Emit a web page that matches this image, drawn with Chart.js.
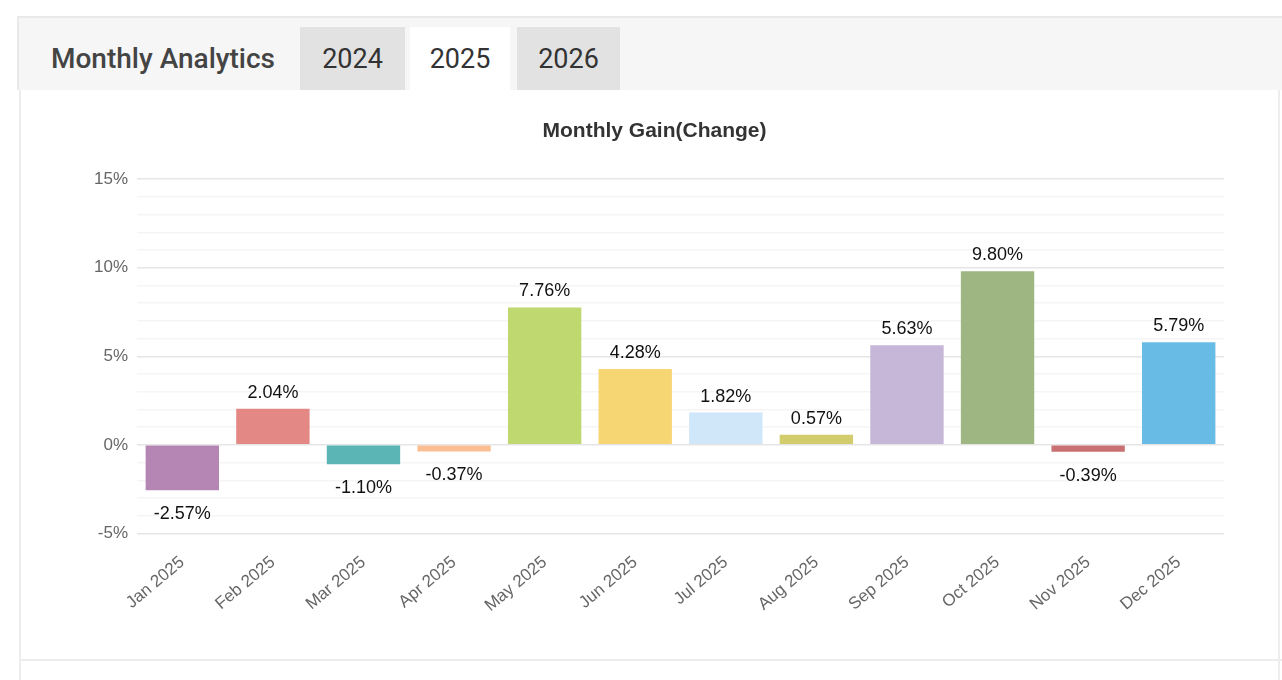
<!DOCTYPE html>
<html>
<head>
<meta charset="utf-8">
<script src="https://cdn.jsdelivr.net/npm/chart.js@4.4.1/dist/chart.umd.min.js"></script>
<style>
  html, body { margin: 0; padding: 0; background: #fff; }
  body { width: 1282px; height: 680px; position: relative; overflow: hidden; font-family: Roboto, "Noto Sans", sans-serif; }
  .header {
    position: absolute; left: 17px; top: 16px; width: 1265px; height: 74px;
    background: #f6f6f6; border-top: 2px solid #e9e9e9; border-left: 2px solid #e9e9e9;
    box-sizing: border-box;
  }
  .header h2 {
    position: absolute; left: 32px; top: 24px; margin: 0;
    font-size: 28px; font-weight: 500; color: #444; line-height: 34px;
  }
  .tab {
    position: absolute; top: 9px; height: 63px; background: #e2e2e2;
    font-size: 27px; color: #333; text-align: center; line-height: 64px;
  }
  .tab.active { background: #fff; }
  .body-box {
    position: absolute; left: 19px; top: 90px; width: 1261px; height: 600px;
    border-left: 2px solid #ededed; border-right: 2px solid #ededed; box-sizing: border-box;
  }
  .bottom-line { position: absolute; left: 19px; top: 659px; width: 1263px; height: 2px; background: #ededed; }
  #wrap { position: absolute; left: 85px; top: 100px; width: 1139px; height: 527px; }
</style>
</head>
<body>
<div class="header">
  <h2>Monthly Analytics</h2>
  <div class="tab" style="left:281px;width:105px;">2024</div>
  <div class="tab active" style="left:391px;width:100px;">2025</div>
  <div class="tab" style="left:498px;width:103px;">2026</div>
</div>
<div class="body-box"></div>
<div class="bottom-line"></div>
<div id="wrap"><canvas id="gainChart"></canvas></div>
<script>
const months = ['Jan 2025', 'Feb 2025', 'Mar 2025', 'Apr 2025', 'May 2025', 'Jun 2025',
                'Jul 2025', 'Aug 2025', 'Sep 2025', 'Oct 2025', 'Nov 2025', 'Dec 2025'];
const gains = [-2.57, 2.04, -1.10, -0.37, 7.76, 4.28, 1.82, 0.57, 5.63, 9.80, -0.39, 5.79];
const barColors = ['#b586b4', '#e48886', '#5bb5b5', '#fbbd92', '#bfd86f', '#f6d673',
                   '#d0e6f9', '#d2cc6c', '#c6b6d8', '#9db682', '#c97172', '#68bbe5'];
const yTicks = [-5, 0, 5, 10, 15];

const FONT = '"Liberation Sans", Arial, sans-serif';

// draws the value label above positive bars, below negative ones
const valueLabels = {
  id: 'valueLabels',
  afterDatasetsDraw(chart) {
    const ctx = chart.ctx;
    const meta = chart.getDatasetMeta(0);
    ctx.save();
    ctx.font = '18px ' + FONT;
    ctx.fillStyle = '#111';
    ctx.textAlign = 'center';
    ctx.textBaseline = 'middle';
    meta.data.forEach((bar, i) => {
      const v = gains[i];
      const y = v >= 0 ? bar.y - 16 : bar.y + 24;
      ctx.fillText(v.toFixed(2) + '%', bar.x, y);
    });
    ctx.restore();
  }
};

const ctx = document.getElementById('gainChart').getContext('2d');
window.gainChart = new Chart(ctx, {
  type: 'bar',
  data: {
    labels: months,
    datasets: [{
      label: 'Monthly Gain',
      data: gains,
      backgroundColor: barColors,
      borderWidth: 0,
      barPercentage: 0.9,
      categoryPercentage: 0.9
    }]
  },
  plugins: [valueLabels],
  options: {
    responsive: true,
    maintainAspectRatio: false,
    animation: false,
    layout: { padding: 0 },
    plugins: {
      legend: { display: false },
      tooltip: { enabled: false },
      title: {
        display: true,
        text: 'Monthly Gain(Change)',
        color: '#333',
        font: { family: FONT, size: 21, weight: 'bold' },
        padding: { top: 19, bottom: 35 }
      }
    },
    scales: {
      x: {
        grid: { display: false },
        border: { display: false },
        ticks: {
          color: '#666',
          font: { family: FONT, size: 17 },
          minRotation: 40,
          maxRotation: 40,
          padding: 11
        }
      },
      y: {
        min: -5,
        max: 15,
        border: { display: false },
        grid: {
          drawTicks: false,
          lineWidth: 1.5,
          color: c => (yTicks.includes(c.tick.value) ? '#e6e6e6' : '#f5f5f5')
        },
        ticks: {
          stepSize: 1,
          autoSkip: false,
          padding: 9,
          color: '#666',
          font: { family: FONT, size: 17 },
          callback: v => (yTicks.includes(v) ? v + '%' : '')
        }
      }
    }
  }
});
</script>
</body>
</html>
